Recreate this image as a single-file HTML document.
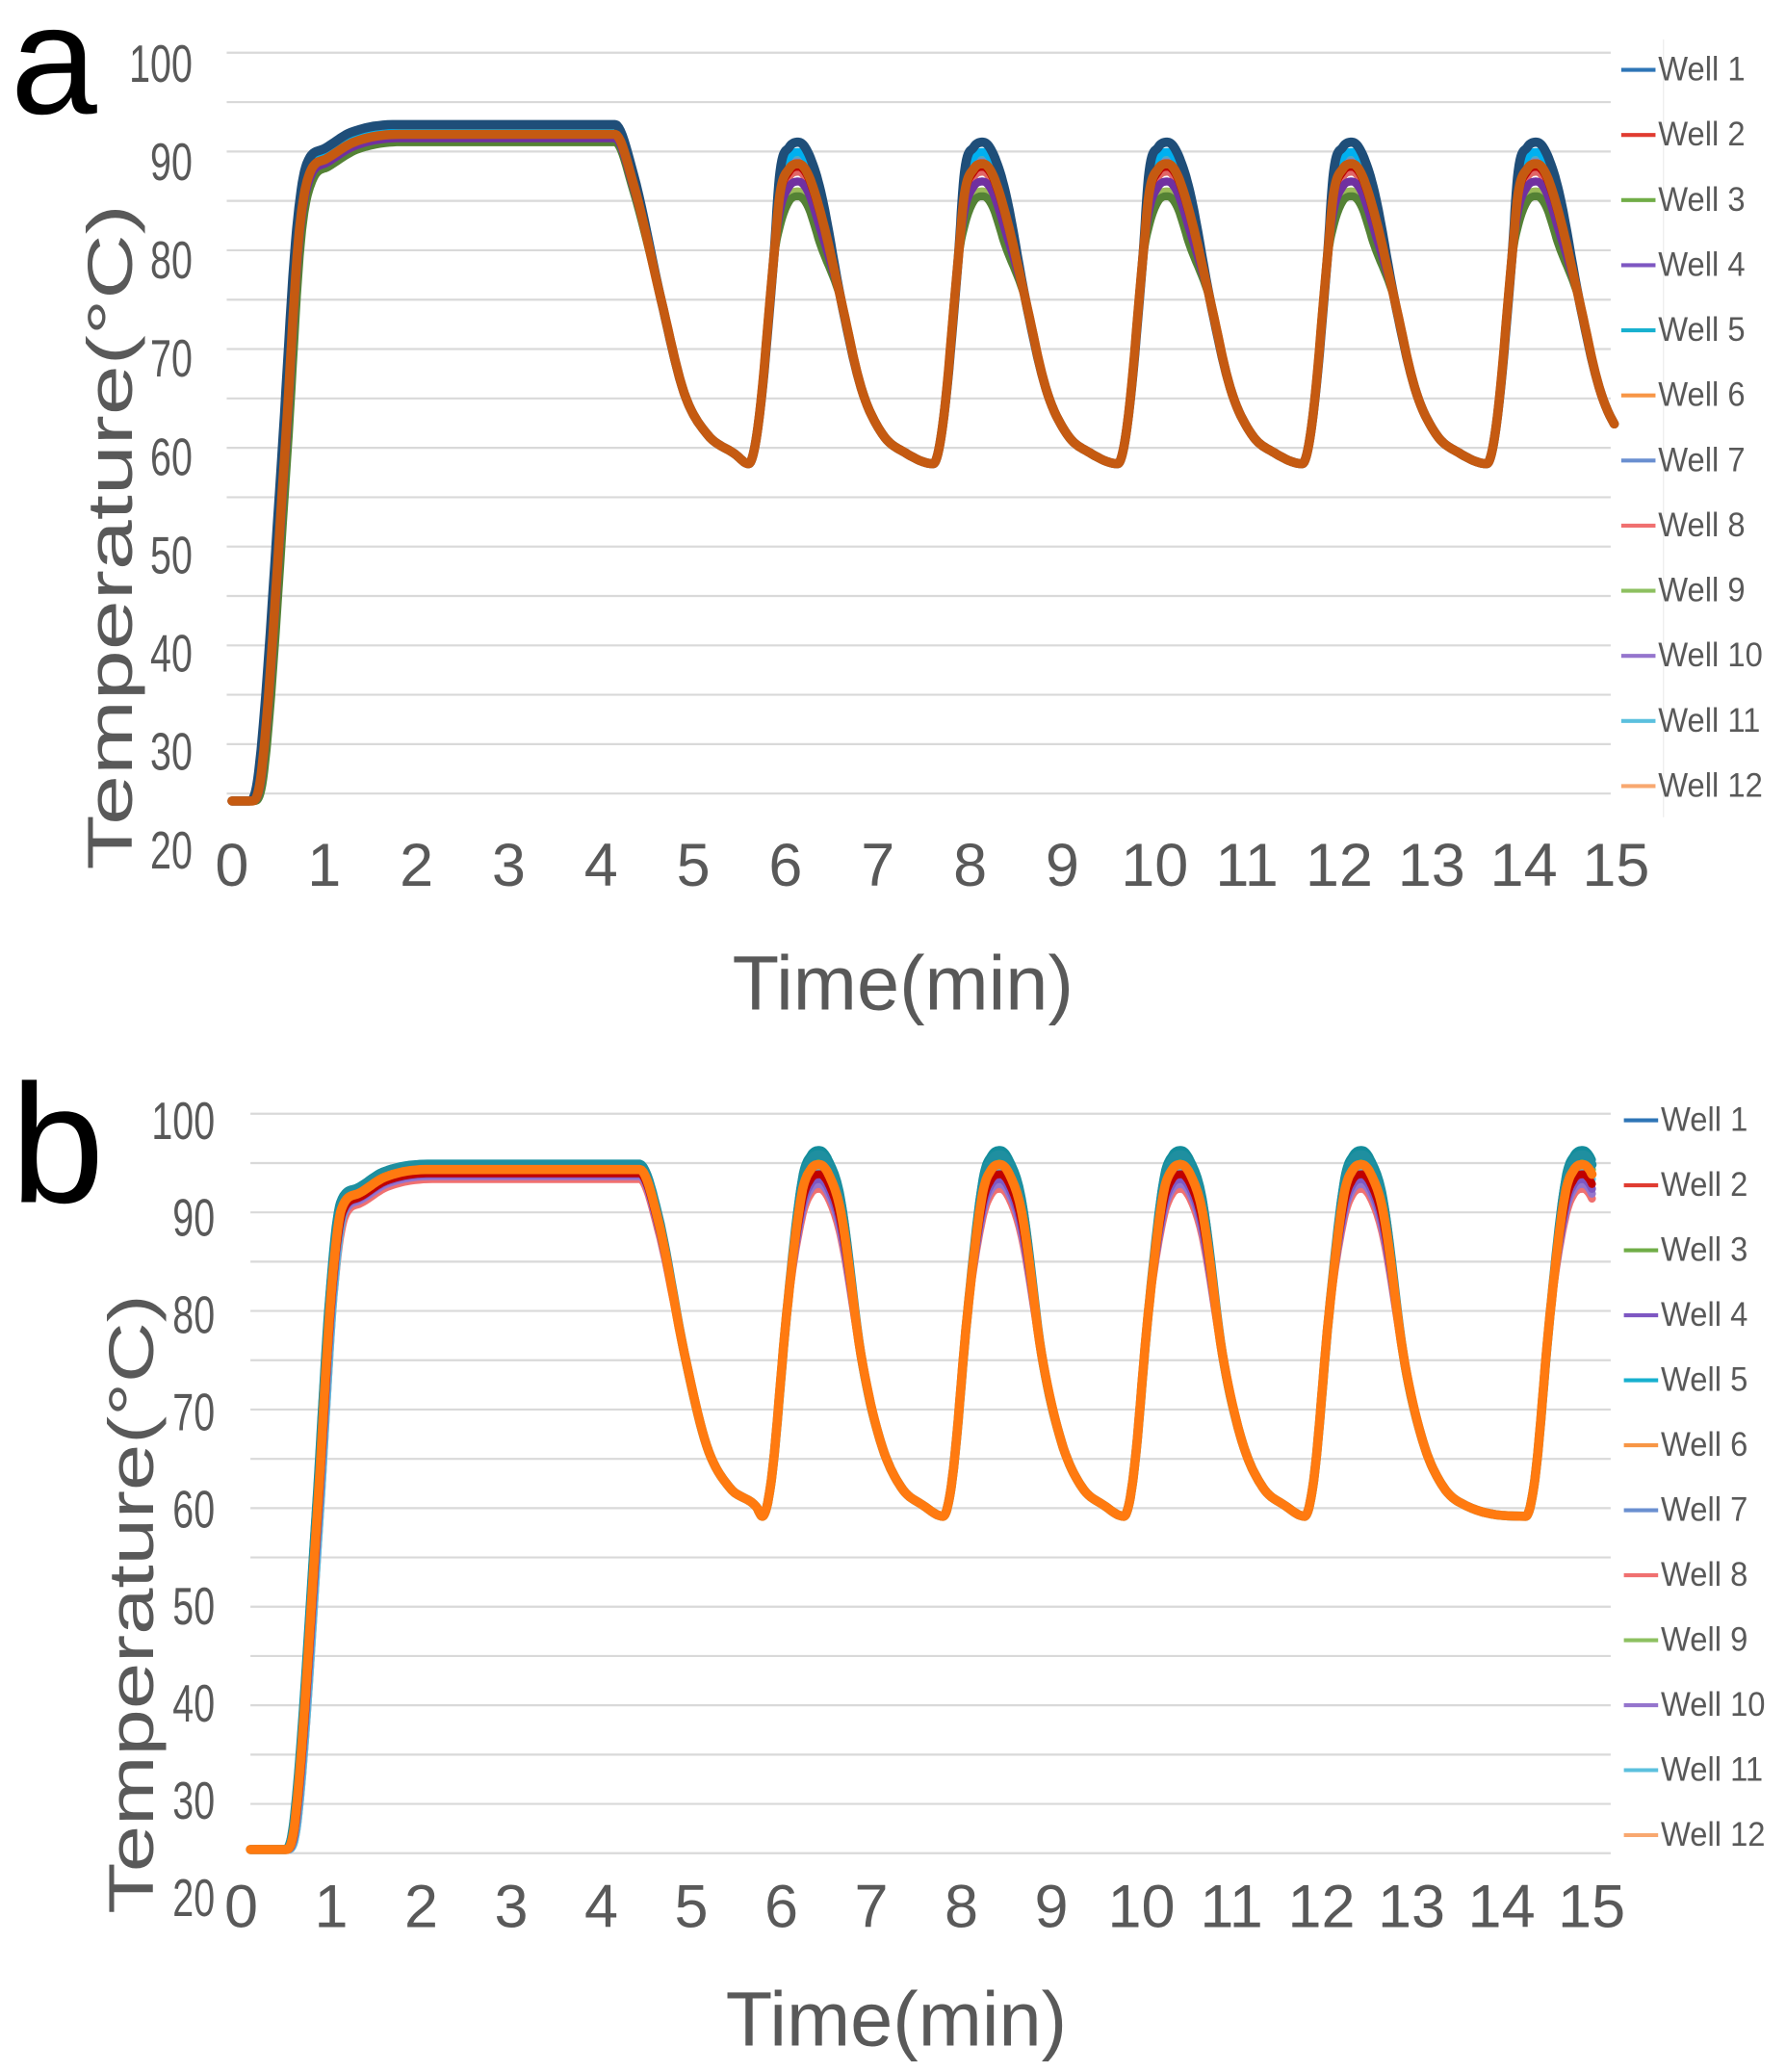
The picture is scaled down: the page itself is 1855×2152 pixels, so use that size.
<!DOCTYPE html>
<html><head><meta charset="utf-8"><style>
html,body{margin:0;padding:0;background:#fff;}
svg{display:block;}
text{font-family:"Liberation Sans",sans-serif;}
</style></head><body>
<svg id="s" width="1855" height="2152" viewBox="0 0 1355 1572" preserveAspectRatio="none" xmlns="http://www.w3.org/2000/svg">
<rect width="1355" height="1572" fill="#fff"/>
<g id="grid"></g>
<g id="series"></g>
<g id="txt" fill="#595959">
<text x="8" y="86" font-size="118" fill="#000">a</text>
<text x="8" y="912" font-size="128" fill="#000">b</text>
<text transform="translate(100,660) rotate(-90)" font-size="48" textLength="505" lengthAdjust="spacingAndGlyphs">Temperature(°C)</text>
<text transform="translate(116,1452) rotate(-90)" font-size="48" textLength="470" lengthAdjust="spacingAndGlyphs">Temperature(°C)</text>
<text x="685" y="766" font-size="58" text-anchor="middle">Time(min)</text>
<text x="680" y="1552" font-size="58" text-anchor="middle">Time(min)</text>
</g>
</svg>
<script>
const NS="http://www.w3.org/2000/svg";
const grid=document.getElementById('grid'),ser=document.getElementById('series'),txt=document.getElementById('txt');
function el(tag,attrs,parent,content){const e=document.createElementNS(NS,tag);for(const k in attrs)e.setAttribute(k,attrs[k]);if(content!==undefined)e.textContent=content;parent.appendChild(e);return e;}
for(let i=0;i<16;i++){const y=40+i*37.47;el('line',{x1:172,x2:1222,y1:y,y2:y,stroke:'#d9d9d9','stroke-width':1.6},grid);}
for(let i=0;i<16;i++){const y=845+i*37.4;el('line',{x1:190,x2:1222,y1:y,y2:y,stroke:'#d9d9d9','stroke-width':1.6},grid);}
const yl=[100,90,80,70,60,50,40,30,20];
yl.forEach((v,i)=>{const y=62+i*74.6;el('text',{transform:`translate(146,${y}) scale(0.72,1)`,'font-size':40,'text-anchor':'end'},txt,v);});
yl.forEach((v,i)=>{const y=864+i*73.7;el('text',{transform:`translate(163,${y}) scale(0.72,1)`,'font-size':40,'text-anchor':'end'},txt,v);});
for(let t=0;t<=15;t++){el('text',{x:176+t*70,y:672,'font-size':46,'text-anchor':'middle'},txt,t);}
for(let t=0;t<=15;t++){el('text',{x:183+t*68.3,y:1462,'font-size':46,'text-anchor':'middle'},txt,t);}
const legC=['#2E75B6','#E03C31','#70AD47','#7E57C2','#17B0CF','#F79646','#6A8FD0','#F07070','#8DC060','#9575CD','#5BC0DE','#F8A870'];
for(let i=0;i<12;i++){let y=53+i*49.4;el('line',{x1:1230,x2:1256,y1:y,y2:y,stroke:legC[i],'stroke-width':3},txt);
 el('text',{transform:`translate(1258,${y+8}) scale(0.92,1)`,'font-size':26},txt,'Well '+(i+1));
 y=850+i*49.3;el('line',{x1:1232,x2:1258,y1:y,y2:y,stroke:legC[i],'stroke-width':3},txt);
 el('text',{transform:`translate(1260,${y+8}) scale(0.92,1)`,'font-size':26},txt,'Well '+(i+1));}
el('line',{x1:1262,x2:1262,y1:30,y2:620,stroke:'#eee','stroke-width':1},grid);
function monotone(p,T){const n=p.length,xs=p.map(q=>q[0]),ys=p.map(q=>q[1]);
 const d=[],m=[];for(let i=0;i<n-1;i++)d.push((ys[i+1]-ys[i])/(xs[i+1]-xs[i]));
 m[0]=d[0];m[n-1]=d[n-2];for(let i=1;i<n-1;i++){m[i]=(d[i-1]*d[i]<=0)?0:(d[i-1]+d[i])/2;}
 for(let i=0;i<n-1;i++){if(d[i]===0){m[i]=0;m[i+1]=0;continue;}const a=m[i]/d[i],b=m[i+1]/d[i],s=a*a+b*b;if(s>9){const t=3/Math.sqrt(s);m[i]=t*a*d[i];m[i+1]=t*b*d[i];}}
 const out=[];
 for(let i=0;i<n-1;i++){const h=xs[i+1]-xs[i];for(let s=0;s<10;s++){const u=s/10,t=xs[i]+u*h;if(t>T)return out;
  const h00=2*u*u*u-3*u*u+1,h10=u*u*u-2*u*u+u,h01=-2*u*u*u+3*u*u,h11=u*u*u-u*u;
  out.push([t,h00*ys[i]+h10*h*m[i]+h01*ys[i+1]+h11*h*m[i+1]]);}}
 out.push([xs[n-1],ys[n-1]]);return out;}
function profile(o){const {rise0,plat,platEnd,bases,peak,pkOff,T}=o;
 let p=[[0,25],[rise0,25],[rise0+0.1,28],[rise0+0.35,60],[rise0+0.5,82],[rise0+0.62,plat-4],[rise0+0.8,plat-2.5],[rise0+1.1,plat-0.8],[rise0+1.6,plat],[platEnd,plat],[platEnd+0.2,plat-5],[platEnd+0.5,76],[platEnd+0.75,66.5],[platEnd+1.0,62.3],[platEnd+1.3,60.3],[bases[0],59.3]];
 bases.forEach((b,k)=>{
  p.push([b+0.1,63],[b+0.27,80],[b+pkOff-0.16,peak-3],[b+pkOff-0.06,peak-0.5],[b+pkOff+0.04,peak],[b+pkOff+0.14,peak-1],[b+pkOff+0.28,peak-5],[b+pkOff+0.5,76],[b+pkOff+0.72,67],[b+pkOff+0.95,62.3],[b+pkOff+1.2,60.4]);
  const nb=bases[k+1]!==undefined?bases[k+1]:b+2;p.push([nb,59.3]);});
 p=p.filter(q=>q[0]<=T+0.6);
 return monotone(p,T);}
function draw(o,X,Y,color,w){const pts=profile(o);
 const d=pts.map((q,i)=>(i?'L':'M')+X(q[0]).toFixed(1)+' '+Y(q[1]).toFixed(1)).join(' ');
 el('path',{d,fill:'none',stroke:color,'stroke-width':w,'stroke-linejoin':'round','stroke-linecap':'round'},ser);}
const XA=t=>176+t*70, YA=v=>645-(v-20)*7.46;
const aWells=[
 ['#F4B183',92.3,89,0.02],['#9BBB59',92.1,87,0.04],['#8064A2',92.6,88,0.03],['#4BACC6',93,90.5,0],['#E06666',92.5,89,0.02],
 ['#6A8FD0',93,90,0],['#548235',92,86.5,0.05],['#7030A0',92.4,88,0.03],['#00B0F0',93.3,91,0],['#C00000',92.8,89.5,0.02],
 ['#1F4E79',93.8,92,-0.01],['#C55A11',92.8,89.8,0.02]];
aWells.forEach((w,i)=>draw({rise0:0.2+w[3],plat:w[1],platEnd:4.15,bases:[5.6,7.6,9.6,11.6,13.6],peak:w[2],pkOff:0.5,T:15},XA,YA,w[0],i>=10?7:6));
const XB=t=>190+t*67.9, YB=v=>1440-(v-20)*7.37;
const bWells=[
 ['#F07070',94,93,0.05],['#9575CD',94.3,93.5,0.04],['#5BC0DE',94.8,95,0.05],['#8DC060',95,95.5,0.03],['#6A8FD0',94.6,94,0.04],
 ['#7E57C2',94.5,94,0.03],['#C00000',94.6,94.5,0.03],['#70AD47',95.2,96,0.02],['#2E75B6',95.5,96.5,0.01],['#138D9C',95.6,97,0],
 ['#1F8FA0',95.5,96.5,0.01],['#FF7A10',95,95.5,0.02]];
bWells.forEach((w,i)=>draw({rise0:0.38+w[3],plat:w[1],platEnd:4.35,bases:[5.72,7.74,9.76,11.78,14.25],peak:w[2],pkOff:0.6,T:15},XB,YB,w[0],i>=10?7:6));
</script>
</body></html>
